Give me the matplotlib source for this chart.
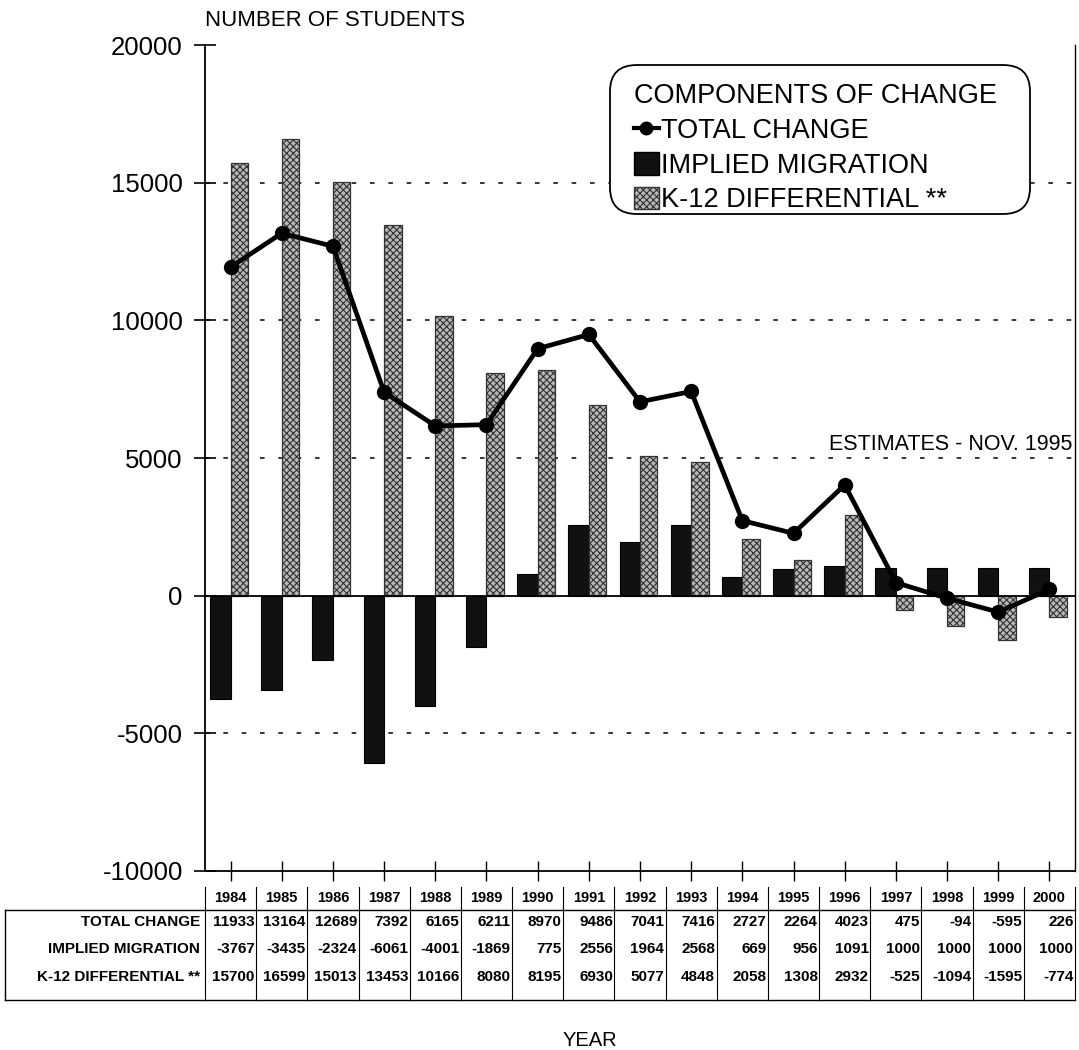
import matplotlib.pyplot as plt
from matplotlib.patches import Patch, FancyBboxPatch
from matplotlib.lines import Line2D
import matplotlib.transforms as mtransforms

plt.rcParams['font.family'] = ['Liberation Sans', 'DejaVu Sans']
plt.rcParams['axes.unicode_minus'] = False
plt.rcParams['hatch.linewidth'] = 0.8

years = ["1984", "1985", "1986", "1987", "1988", "1989", "1990", "1991", "1992",
         "1993", "1994", "1995", "1996", "1997", "1998", "1999", "2000"]
total_change = [11933, 13164, 12689, 7392, 6165, 6211, 8970, 9486, 7041,
                7416, 2727, 2264, 4023, 475, -94, -595, 226]
implied_migration = [-3767, -3435, -2324, -6061, -4001, -1869, 775, 2556, 1964,
                     2568, 669, 956, 1091, 1000, 1000, 1000, 1000]
k12_differential = [15700, 16599, 15013, 13453, 10166, 8080, 8195, 6930, 5077,
                    4848, 2058, 1308, 2932, -525, -1094, -1595, -774]
row_names = ["TOTAL CHANGE", "IMPLIED MIGRATION", "K-12 DIFFERENTIAL **"]

fig = plt.figure(figsize=(10.79, 10.5), dpi=100)
ax = fig.add_axes([205 / 1079, 1 - 871 / 1050, 870 / 1079, 826 / 1050])

x = list(range(len(years)))
w_dark, w_gray = 0.40, 0.34
ax.bar([i - w_dark / 2 for i in x], implied_migration, width=w_dark, color='#111111',
       edgecolor='black', linewidth=0.8, zorder=2)
ax.bar([i + w_gray / 2 for i in x], k12_differential, width=w_gray, color='#b8b8b8',
       edgecolor='#333333', hatch='xxxxx', linewidth=0.9, zorder=2)
ax.plot(x, total_change, color='black', linewidth=3.4, marker='o',
        markersize=10, zorder=3)

ax.set_xlim(-0.5, 16.5)
ax.set_ylim(-10000, 20000)
ax.set_yticks([-10000, -5000, 0, 5000, 10000, 15000, 20000])
ax.tick_params(axis='y', labelsize=18.5, direction='inout', length=16, width=1.2, pad=8)
ax.set_xticks(x)
ax.set_xticklabels([])
ax.tick_params(axis='x', direction='inout', length=14, width=1)
for y in [-5000, 5000, 10000, 15000]:
    ax.axhline(y, color='black', linestyle=(0, (3, 9)), linewidth=1.1, zorder=1)
ax.axhline(0, color='black', linewidth=1.3, zorder=2.5)
ax.spines['top'].set_visible(False)
ax.spines['right'].set_linewidth(1)
ax.spines['left'].set_linewidth(1.3)
ax.spines['bottom'].set_linewidth(1.3)

ax.text(16.45, 5000 + 100, "ESTIMATES - NOV. 1995", ha='right', va='bottom',
        fontsize=15.5)
fig.text(205 / 1079, 1 - 20 / 1050, "NUMBER OF STUDENTS", ha='left', va='center',
         fontsize=16)
fig.text(590 / 1079, 1 - 1040 / 1050, "YEAR", ha='center', va='center', fontsize=14.5)

# legend with a rounded box drawn separately
box = FancyBboxPatch((610 / 1079, 1 - 214 / 1050), 420 / 1079, 149 / 1050,
                     boxstyle='round,pad=0,rounding_size=0.025',
                     facecolor='white', edgecolor='black', linewidth=1.3,
                     transform=fig.transFigure, zorder=4, clip_on=False)
ax.add_patch(box)
handles = [Line2D([0], [0], color='black', lw=3, marker='o', markersize=9),
           Patch(facecolor='#111111', edgecolor='black'),
           Patch(facecolor='#b8b8b8', edgecolor='#333333', hatch='xxxxx')]
leg = ax.legend(handles, ["TOTAL CHANGE", "IMPLIED MIGRATION", "K-12 DIFFERENTIAL **"],
                title="COMPONENTS OF CHANGE", loc='upper left',
                bbox_to_anchor=((618 - 205) / 870, (871 - 67) / 826),
                fontsize=19.5, title_fontsize=19.5, frameon=False,
                handlelength=0.9, handleheight=0.9,
                handletextpad=0.1, labelspacing=0.3, borderpad=0.1,
                alignment='left')
leg.set_zorder(5)

# data table below axis
trans = mtransforms.blended_transform_factory(ax.transData, fig.transFigure)
fy = lambda py: 1 - py / 1050
row_y = [922, 949, 977]
for i, yr in enumerate(years):
    ax.text(i, fy(898), yr, transform=trans, ha='center', va='center',
            fontsize=10.5, fontweight='bold')
    for r, vals in enumerate([total_change, implied_migration, k12_differential]):
        ax.text(i + 0.47, fy(row_y[r]), str(vals[i]), transform=trans,
                ha='right', va='center', fontsize=11, fontweight='bold')
for r, name in enumerate(row_names):
    fig.text(200 / 1079, fy(row_y[r]), name, ha='right', va='center',
             fontsize=11, fontweight='bold')
for i in range(len(years) + 1):
    ax.plot([i - 0.5, i - 0.5], [fy(887), fy(1000)], transform=trans,
            color='black', lw=0.8, clip_on=False)
fig.add_artist(Line2D([5 / 1079, 1075 / 1079], [fy(910), fy(910)], color='black', lw=1))
fig.add_artist(Line2D([5 / 1079, 1075 / 1079], [fy(1000), fy(1000)], color='black', lw=1))
fig.add_artist(Line2D([5 / 1079, 5 / 1079], [fy(910), fy(1000)], color='black', lw=1))

fig.savefig("out.png", dpi=100)
